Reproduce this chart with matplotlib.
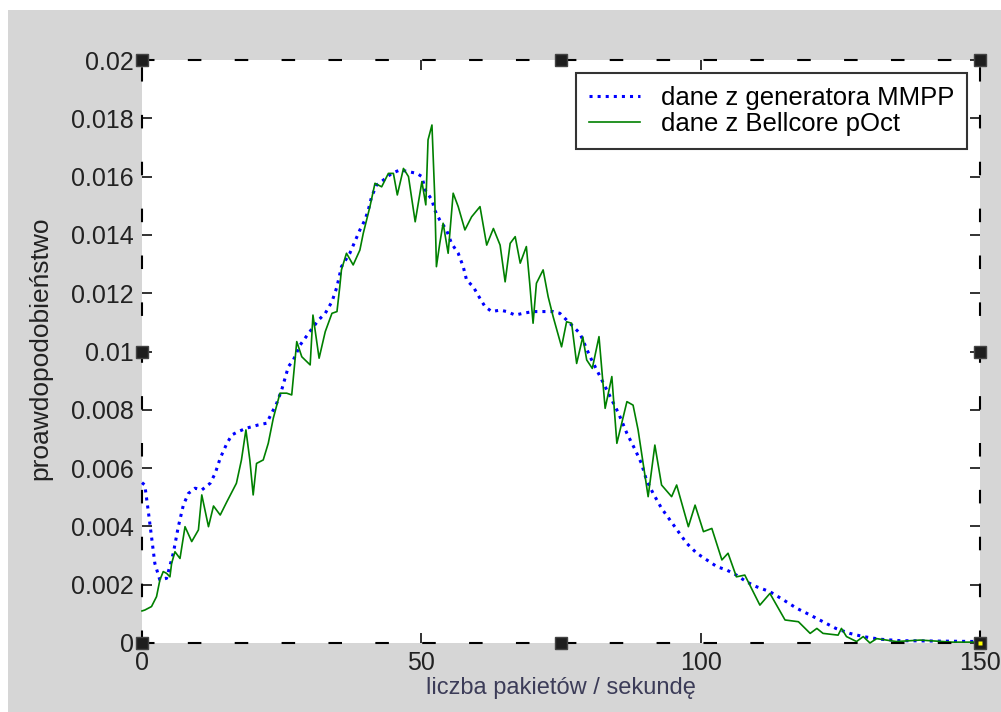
import matplotlib
matplotlib.use('Agg')
import matplotlib.pyplot as plt
from matplotlib.patches import Rectangle

# MMPP generator (blue dotted), values in units of 1e-3
mmpp_x = [0, 0.5, 1.1, 1.7, 2.3, 3.2, 4.4, 5.6, 6.5, 7.4, 8.3, 9.5, 10.7, 12.2, 13.1,
          14.0, 15.2, 16.1, 17.2, 18.7, 20.8, 22.3, 23.2, 24.1, 25.0, 26.2, 27.1, 28.3,
          29.8, 31.6, 32.8, 34.0, 34.9, 35.7, 37.2, 38.1, 39.0, 39.9, 40.5, 41.1, 42.0,
          43.2, 44.7, 46.2, 47.7, 49.2, 50.1, 50.7, 51.9, 52.4, 53.3, 54.5, 55.4, 56.6,
          57.5, 58.1, 59.3, 60.5, 61.4, 62.6, 64.1, 65.3, 66.8, 68.2, 70.0, 73.6, 74.8,
          76.0, 77.2, 78.4, 80.2, 82.0, 83.8, 85.3, 86.8, 88.3, 89.4, 90.3, 91.5, 93.0,
          94.5, 96.0, 97.5, 99.3, 101.1, 102.9, 104.7, 106.4, 108.2, 110.0, 112.4, 114.8,
          117.2, 119.6, 121.9, 124.2, 126.7, 129.1, 132.1, 135.7, 150]
mmpp_y = [5.5, 5.42, 4.56, 3.65, 2.73, 2.16, 2.22, 3.08, 3.99, 4.73, 5.13, 5.31, 5.25, 5.48, 5.82,
          6.34, 6.85, 7.14, 7.25, 7.37, 7.48, 7.54, 7.88, 8.22, 8.68, 9.48, 9.71, 10.22,
          10.62, 11.08, 11.31, 11.71, 12.22, 12.91, 13.37, 13.77, 14.17, 14.51, 14.85, 15.31, 15.71,
          15.88, 16.11, 16.23, 16.17, 16.11, 16.0, 15.54, 15.2, 14.85, 14.51, 14.17, 13.71, 13.37,
          12.91, 12.45, 12.22, 11.82, 11.54, 11.37, 11.42, 11.37, 11.25, 11.31, 11.37, 11.37, 11.31,
          11.08, 10.85, 10.62, 9.82, 9.14, 8.45, 7.88, 7.19, 6.62, 6.16, 5.59, 5.13, 4.62,
          4.22, 3.82, 3.42, 3.08, 2.85, 2.62, 2.50, 2.33, 2.10, 1.93, 1.76, 1.48,
          1.19, 0.96, 0.73, 0.50, 0.33, 0.22, 0.13, 0.08, 0.05]

# Bellcore pOct trace (green), values in units of 1e-3
bell_x = [0, 0.5, 1.7, 2.6, 3.2, 3.8, 4.4, 5.0, 5.3, 5.9, 6.8, 7.7, 8.9, 10.1, 10.7, 11.9,
          12.8, 14.0, 15.2, 16.9, 17.8, 18.6, 19.3, 19.9, 20.5, 21.7, 22.6, 23.5, 24.7, 25.9,
          26.8, 27.7, 28.6, 30.1, 30.6, 31.7, 32.8, 34.0, 34.9, 35.4, 35.7, 36.6, 37.8, 39.0,
          39.6, 40.8, 41.7, 42.9, 44.1, 45.0, 45.7, 46.8, 47.7, 48.9, 50.1, 50.8, 51.2, 51.9,
          52.4, 52.7, 53.3, 53.9, 54.8, 55.7, 56.6, 57.8, 59.0, 60.5, 61.7, 62.9, 64.1, 65.0,
          65.9, 66.8, 67.7, 68.8, 69.4, 70.0, 70.6, 71.8, 72.7, 73.6, 75.1, 76.0, 76.9, 77.8,
          78.9, 79.6, 80.6, 81.8, 82.9, 84.1, 85.0, 86.8, 87.9, 88.8, 90.6, 91.8, 93.0, 94.8,
          95.7, 97.8, 99.0, 100.5, 102.0, 103.8, 104.9, 106.4, 107.9, 110.6, 112.4, 115.1,
          117.5, 119.6, 120.8, 121.9, 124.6, 125.2, 126.1, 127.9, 129.1, 130.3, 131.5, 135.0,
          139.3, 145.0, 150]
bell_y = [1.1, 1.13, 1.25, 1.59, 2.16, 2.45, 2.39, 2.27, 2.73, 3.13, 2.9, 3.99, 3.48, 3.88, 5.08, 3.99,
          4.70, 4.39, 4.85, 5.48, 6.28, 7.31, 6.28, 5.08, 6.16, 6.28, 6.85, 7.71, 8.57, 8.57,
          8.51, 10.34, 9.82, 9.54, 11.25, 9.77, 10.68, 11.31, 11.37, 12.22, 12.80, 13.37, 12.97, 13.48,
          14.05, 14.97, 15.77, 15.65, 16.11, 16.11, 15.37, 16.28, 16.0, 14.45, 15.83, 15.03, 17.26, 17.77,
          15.31, 12.91, 13.71, 14.40, 13.37, 15.43, 14.97, 14.17, 14.62, 14.97, 13.65, 14.22, 13.65, 12.39,
          13.71, 13.94, 13.03, 13.6, 12.34, 10.97, 12.34, 12.80, 11.88, 11.19, 10.16, 11.02, 10.97, 9.59,
          10.5, 9.71, 9.42, 10.51, 8.05, 9.14, 6.85, 8.28, 8.16, 7.31, 5.02, 6.79, 5.42, 5.02,
          5.42, 3.99, 4.73, 3.82, 3.93, 2.85, 3.08, 2.27, 2.33, 1.30, 1.70, 0.79,
          0.73, 0.33, 0.50, 0.33, 0.27, 0.50, 0.22, 0.05, 0.22, 0.0, 0.15, 0.05,
          0.1, 0.03, 0.03]

yticks = [0, 0.002, 0.004, 0.006, 0.008, 0.01, 0.012, 0.014, 0.016, 0.018, 0.02]
ytick_labels = ['0', '0.002', '0.004', '0.006', '0.008', '0.01', '0.012', '0.014', '0.016', '0.018', '0.02']
xticks = [0, 50, 100, 150]

plt.rcParams['font.family'] = ['Liberation Sans', 'DejaVu Sans']

fig = plt.figure(figsize=(10.01, 7.12), dpi=100, facecolor='#d6d6d6')
# thin white strips at the left and top edges of the screenshot
fig.add_artist(Rectangle((0, 0), 8 / 1001, 1, transform=fig.transFigure,
                         facecolor='white', edgecolor='none'))
fig.add_artist(Rectangle((0, 1 - 10 / 712), 1, 10 / 712, transform=fig.transFigure,
                         facecolor='white', edgecolor='none'))

ax = fig.add_axes([142 / 1001, 69 / 712, 838 / 1001, 583 / 712])
ax.set_facecolor('white')

ax.plot(mmpp_x, [v / 1000 for v in mmpp_y], linestyle=':', color='#0000ff', linewidth=2.2,
        label='dane z generatora MMPP', clip_on=False)
ax.plot(bell_x, [v / 1000 for v in bell_y], '-', color='#008000', linewidth=1.2,
        label='dane z Bellcore pOct', clip_on=False)

ax.set_xlim(0, 150)
ax.set_ylim(0, 0.02)
ax.set_xticks(xticks)
ax.set_xticklabels([str(t) for t in xticks])
ax.set_yticks(yticks)
ax.set_yticklabels(ytick_labels)
ax.tick_params(direction='in', length=7, width=1.3, color='#222222', labelsize=18,
               labelcolor='#222222', top=True, right=True, pad=6)

for s in ax.spines.values():
    s.set_linestyle((0, (5.5, 17)))
    s.set_linewidth(1.5)
    s.set_color('black')

leg = ax.legend(loc='upper right', fontsize=18.5, frameon=True, fancybox=False, shadow=False,
                borderaxespad=0.5, handlelength=2.0, handletextpad=0.8, labelspacing=0.08,
                borderpad=0.5)
leg.get_frame().set_edgecolor('black')
leg.get_frame().set_linewidth(1.5)

# selection handles around the axes box
hx = [0, 0.5, 1, 0, 1, 0, 0.5, 1]
hy = [1, 1, 1, 0.5, 0.5, 0, 0, 0]
ax.plot(hx, hy, 's', transform=ax.transAxes, markersize=9, color='#1e1e1e',
        markeredgecolor='#444444', clip_on=False, zorder=5)
ax.plot([1], [0], 's', transform=ax.transAxes, markersize=3, color='#ffff00',
        markeredgecolor='none', clip_on=False, zorder=6)

fig.text(561 / 1001, 1 - 688 / 712, 'liczba pakietów / sekundę', ha='center', va='center',
         fontsize=17, color='#3c3c58')
fig.text(40 / 1001, 1 - 348 / 712, 'proawdopodobieństwo', ha='center', va='center',
         rotation=90, fontsize=19, color='#222222')

fig.savefig('out.png', dpi=100, facecolor=fig.get_facecolor())
